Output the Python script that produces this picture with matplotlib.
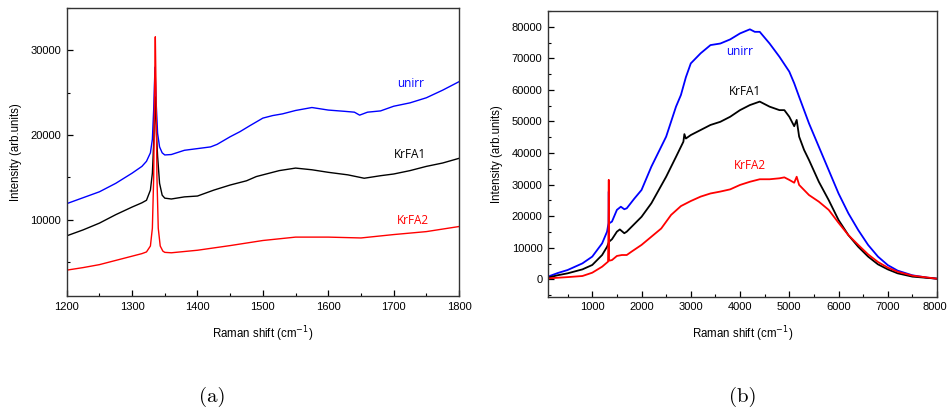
import matplotlib
matplotlib.use("Agg")
import matplotlib.pyplot as plt
import matplotlib.font_manager as fm
from matplotlib.ticker import MultipleLocator, FixedLocator
from matplotlib.transforms import ScaledTranslation

plt.rcParams['mathtext.fontset'] = 'dejavusans'

# ---------------- Panel (a) data ----------------
xa_blue = [1200, 1225, 1250, 1275, 1300, 1315, 1322, 1328, 1331, 1333, 1335, 1337, 1339, 1342, 1346, 1350,
           1360, 1380, 1400, 1420, 1430, 1450, 1465, 1480, 1500, 1515, 1530, 1550, 1575, 1600, 1625, 1640,
           1648, 1660, 1680, 1700, 1725, 1750, 1775, 1800]
ya_blue = [11900, 12600, 13300, 14300, 15500, 16300, 16900, 17900, 19500, 23000, 28000, 23500, 20200, 18600, 17900, 17650,
           17700, 18200, 18400, 18600, 18900, 19800, 20400, 21100, 22000, 22300, 22500, 22900, 23250, 22950, 22800, 22700,
           22350, 22700, 22850, 23400, 23800, 24400, 25300, 26300]

xa_black = [1200, 1225, 1250, 1275, 1300, 1315, 1322, 1328, 1331, 1333, 1335.5, 1337, 1339, 1342, 1346, 1350,
            1360, 1380, 1400, 1425, 1450, 1475, 1490, 1500, 1525, 1550, 1575, 1600, 1630, 1655, 1680, 1700,
            1725, 1750, 1775, 1800]
ya_black = [8100, 8800, 9600, 10600, 11500, 12000, 12300, 13500, 15500, 19000, 24500, 20500, 17500, 14300, 12900, 12550,
            12450, 12700, 12800, 13500, 14100, 14600, 15100, 15300, 15800, 16100, 15900, 15600, 15300, 14900, 15200, 15400,
            15800, 16300, 16700, 17250]

xa_red = [1200, 1225, 1250, 1275, 1300, 1315, 1322, 1328, 1331, 1333, 1334.5, 1335.5, 1336.5, 1338, 1340, 1343, 1347, 1350,
          1360, 1400, 1450, 1500, 1550, 1600, 1650, 1700, 1750, 1800]
ya_red = [4050, 4350, 4700, 5200, 5700, 6000, 6200, 6900, 9000, 15000, 26000, 31600, 26000, 15000, 9000, 6900, 6300, 6150,
          6100, 6400, 6950, 7550, 7950, 7950, 7850, 8250, 8600, 9200]

# ---------------- Panel (b) data ----------------
xb_blue = [100, 300, 500, 800, 1000, 1200, 1300, 1330, 1335, 1340, 1400, 1500, 1580, 1650, 1700, 1850, 2000, 2200,
           2500, 2700, 2800, 2900, 3000, 3200, 3400, 3600, 3800, 4000, 4200, 4300, 4400, 4600, 4800, 5000, 5100,
           5200, 5400, 5600, 5800, 6000, 6200, 6400, 6600, 6800, 7000, 7200, 7500, 7800, 8000]
yb_blue = [850, 2000, 2950, 5050, 7200, 11400, 15100, 17800, 27800, 17700, 18300, 22000, 23000, 22200, 22500, 25500, 28300, 35700,
           45200, 54700, 58400, 64000, 68400, 71600, 74200, 74700, 76000, 77900, 79200, 78400, 78400, 74700, 70500, 65800, 62100,
           57800, 49400, 42000, 34600, 27200, 20900, 15600, 10900, 7200, 4500, 2750, 1270, 530, 200]

xb_black = [100, 300, 500, 800, 1000, 1200, 1300, 1340, 1400, 1500, 1560, 1650, 1700, 2000, 2200, 2500, 2700, 2850,
            2870, 2900, 3000, 3200, 3400, 3600, 3800, 4000, 4200, 4400, 4600, 4800, 4900, 5000, 5100, 5150,
            5200, 5300, 5400, 5600, 5800, 6000, 6200, 6400, 6600, 6800, 7000, 7200, 7500, 8000]
yb_black = [530, 1300, 1900, 3150, 4550, 7700, 10300, 11900, 12700, 15100, 15800, 14600, 15100, 19800, 24100, 32500, 38800, 43600,
            46000, 44600, 45700, 47300, 48900, 49900, 51500, 53600, 55200, 56300, 54700, 53600, 53600, 51500, 48500, 50500,
            45200, 41000, 37800, 30900, 25100, 18800, 14000, 10300, 7200, 4750, 3150, 1900, 850, 200]

xb_red = [100, 300, 500, 800, 1000, 1200, 1320, 1330, 1335, 1340, 1345, 1400, 1500, 1600, 1700, 1800, 2000, 2200,
          2400, 2600, 2800, 3000, 3200, 3400, 3600, 3800, 4000, 4200, 4400, 4600, 4800, 4900, 5000, 5100, 5150,
          5200, 5400, 5600, 5800, 6000, 6200, 6400, 6600, 6800, 7000, 7200, 7500, 8000]
yb_red = [300, 500, 700, 1050, 2100, 4000, 5600, 17000, 31500, 6000, 5900, 6100, 7400, 7700, 7700, 8800, 10900, 13500,
          16100, 20400, 23200, 24800, 26200, 27200, 27800, 28500, 29900, 30900, 31700, 31700, 32000, 32300, 31500, 30600, 32500,
          29900, 26700, 24600, 22000, 17900, 14000, 10900, 7900, 5500, 3700, 2400, 1160, 200]

xa_ticks = [1200, 1300, 1400, 1500, 1600, 1700, 1800]
ya_ticks = [10000, 20000, 30000]
xb_ticks = [1000, 2000, 3000, 4000, 5000, 6000, 7000, 8000]
yb_ticks = [0, 10000, 20000, 30000, 40000, 50000, 60000, 70000, 80000]

labels = ["unirr", "KrFA1", "KrFA2"]
colors = ["#0000ff", "#000000", "#ff0000"]

tick_family = ['Liberation Sans', 'DejaVu Sans']
label_font = ['Open Sans', 'DejaVu Sans']

fig = plt.figure(figsize=(9.49, 4.12), dpi=100)
axa = fig.add_axes([0.0703, 0.2816, 0.4134, 0.699])
axb = fig.add_axes([0.5774, 0.2799, 0.410, 0.6934])

for x, y, c in [(xa_blue, ya_blue, colors[0]), (xa_black, ya_black, colors[1]), (xa_red, ya_red, colors[2])]:
    axa.plot(x, y, color=c, lw=1.0)
for x, y, c in [(xb_blue, yb_blue, colors[0]), (xb_black, yb_black, colors[1]), (xb_red, yb_red, colors[2])]:
    axb.plot(x, y, color=c, lw=1.3)

axa.set_xlim(1200, 1800)
axa.set_ylim(1000, 35000)
axa.set_xticks(xa_ticks)
axa.xaxis.set_minor_locator(MultipleLocator(50))
axa.set_yticks(ya_ticks)
axa.yaxis.set_minor_locator(MultipleLocator(5000))

axb.set_xlim(100, 8000)
axb.set_ylim(-5500, 85000)
axb.set_xticks(xb_ticks)
axb.xaxis.set_minor_locator(MultipleLocator(500))
axb.set_yticks(yb_ticks)
axb.yaxis.set_minor_locator(MultipleLocator(5000))

for ax in (axa, axb):
    ax.tick_params(which='major', direction='in', length=4, width=0.9, pad=4, top=False, right=False)
    ax.tick_params(which='minor', direction='in', length=2.5, width=0.8, top=False, right=False)
    for lab in ax.get_xticklabels() + ax.get_yticklabels():
        lab.set_family(tick_family)
        lab.set_fontsize(8)
    for s in ax.spines.values():
        s.set_color('#333333')
        s.set_linewidth(1.0)
    ax.set_xlabel("Raman shift (cm$^{-1}$)", family=tick_family, fontsize=8.3, labelpad=9)
    ax.set_ylabel("Intensity (arb.units)", family=tick_family, fontsize=8.3, labelpad=6)

# nudge the last x tick label of panel (b) so that it stays inside the figure
last = axb.xaxis.get_major_ticks()[-1].label1
last.set_transform(last.get_transform() + ScaledTranslation(-2.5 / 100, 0, fig.dpi_scale_trans))

# curve labels
axa.text(1726, 26100, labels[0], color=colors[0], family=label_font, fontsize=8.5, ha='center', va='center')
axa.text(1725, 17760, labels[1], color=colors[1], family=label_font, fontsize=8.5, ha='center', va='center')
axa.text(1730, 9900, labels[2], color=colors[2], family=label_font, fontsize=8.5, ha='center', va='center')
axb.text(4000, 72250, labels[0], color=colors[0], family=label_font, fontsize=8.5, ha='center', va='center')
axb.text(4100, 59600, labels[1], color=colors[1], family=label_font, fontsize=8.5, ha='center', va='center')
axb.text(4200, 36200, labels[2], color=colors[2], family=label_font, fontsize=8.5, ha='center', va='center')

fig.text(212 / 949, 1 - 397 / 412, "(a)", family=['cmr10', 'DejaVu Serif'], fontsize=15, ha='center', va='center')
fig.text(743 / 949, 1 - 397 / 412, "(b)", family=['cmr10', 'DejaVu Serif'], fontsize=15, ha='center', va='center')

fig.savefig("out.png", dpi=100)
